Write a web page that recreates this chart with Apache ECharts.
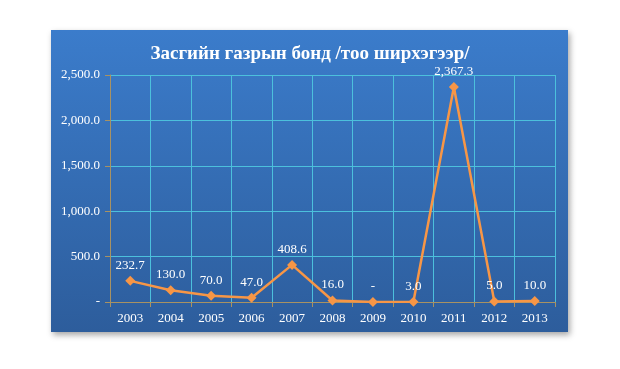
<!DOCTYPE html>
<html><head><meta charset="utf-8">
<script src="https://cdn.jsdelivr.net/npm/echarts@6/dist/echarts.min.js"></script>
<style>html,body{margin:0;padding:0;background:#fff;}#c{width:620px;height:369px;}</style>
</head><body><div id="c"></div>
<script>
const categories = ['2003','2004','2005','2006','2007','2008','2009','2010','2011','2012','2013'];
const values = [232.7, 130.0, 70.0, 47.0, 408.6, 16.0, 0, 3.0, 2367.3, 5.0, 10.0];
const titleText = 'Засгийн газрын бонд /тоо ширхэгээр/';

function fmt(v){
  if (v === 0) return '-';
  return v.toLocaleString('en-US',{minimumFractionDigits:1,maximumFractionDigits:1});
}
const chart = echarts.init(document.getElementById('c'), null, {renderer:'canvas'});
chart.setOption({
  backgroundColor:'#ffffff',
  animation:false,
  graphic:[{
    type:'rect', z:-10, silent:true,
    shape:{x:51,y:30,width:517,height:302},
    style:{
      fill:new echarts.graphic.LinearGradient(0,0,0,1,[{offset:0,color:'#3b7ccb'},{offset:1,color:'#2d5d9c'}]),
      shadowBlur:6, shadowOffsetX:2, shadowOffsetY:3, shadowColor:'rgba(0,0,0,0.35)'
    }
  }],
  title:{
    text:titleText, left:305, top:40, textAlign:'center',
    textStyle:{color:'#ffffff',fontFamily:'Liberation Serif',fontWeight:'bold',fontSize:19}
  },
  grid:{left:110,right:65,top:75,bottom:67},
  xAxis:{
    type:'category', data:categories, boundaryGap:true,
    axisLine:{lineStyle:{color:'#a89263',width:1}},
    axisTick:{show:true,length:5,lineStyle:{color:'#a89263'}},
    axisLabel:{color:'#ffffff',fontFamily:'Liberation Serif',fontSize:13,margin:10},
    splitLine:{show:true,lineStyle:{color:'#4cc0dc',width:1}}
  },
  yAxis:{
    type:'value', min:0, max:2500, interval:500,
    axisLine:{show:true,lineStyle:{color:'#a89263'}},
    axisTick:{show:true,length:5,lineStyle:{color:'#a89263'}},
    axisLabel:{color:'#ffffff',fontFamily:'Liberation Serif',fontSize:13,margin:10,formatter:fmt},
    splitLine:{show:true,lineStyle:{color:'#4cc0dc',width:1}}
  },
  series:[{
    type:'line', data:values,
    symbol:'diamond', symbolSize:10,
    lineStyle:{color:'#f79646',width:2.5},
    itemStyle:{color:'#f79646'},
    label:{show:true,position:'top',distance:4,color:'#ffffff',fontFamily:'Liberation Serif',fontSize:13,
      formatter:p=>fmt(p.value)}
  }]
});
</script></body></html>
